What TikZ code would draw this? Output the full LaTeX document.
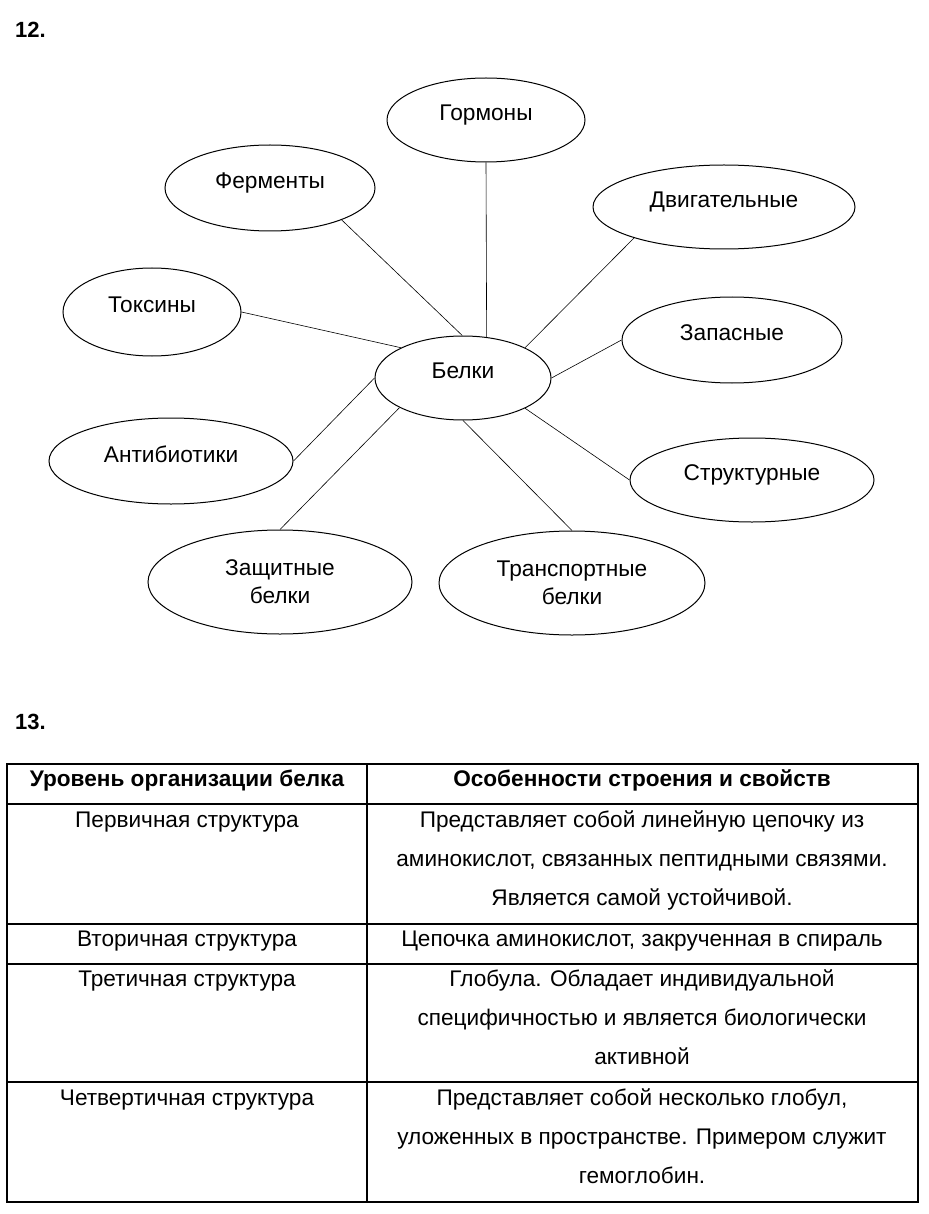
\documentclass[tikz,border=0pt]{standalone}
\usepackage{fontspec}
\setmainfont{Liberation Sans}
\usetikzlibrary{shapes.geometric}
\tikzset{
kind/.style={draw,ellipse,line width=1pt,inner sep=0pt,text depth=14pt,font=\fontsize{22.7}{28}\selectfont},
kindtwo/.style={draw,ellipse,line width=1pt,inner sep=0pt,align=center,font=\fontsize{22.7}{28}\selectfont},
link/.style={line width=.6pt},
cell/.style={anchor=base,inner sep=0pt,align=center,font=\fontsize{22.6}{39}\selectfont},
headcell/.style={cell,font=\bfseries\fontsize{22.6}{39}\selectfont},
tabline/.style={line width=1.2pt},
num/.style={anchor=west,inner sep=0pt,font=\bfseries\fontsize{22}{26}\selectfont}
}

\begin{document}
\begin{tikzpicture}[x=1pt,y=-1pt]
\useasboundingbox (0,0) rectangle (928,1214);
% 12
\node[num](n12) at (15,30){12.};
\node[kind,minimum width=176pt,minimum height=84pt](bel) at (463,378){Белки};
\node[kind,minimum width=198pt,minimum height=84pt](gorm) at (486,120){Гормоны};
\node[kind,minimum width=210pt,minimum height=86pt](ferm) at (270,188){Ферменты};
\node[kind,minimum width=262pt,minimum height=84pt](dvig) at (724,207){Двигательные};
\node[kind,minimum width=178pt,minimum height=88pt](tox) at (152,312){Токсины};
\node[kind,minimum width=220pt,minimum height=86pt](zap) at (732,340){Запасные};
\node[kind,minimum width=244pt,minimum height=86pt](anti) at (171,461){Антибиотики};
\node[kind,minimum width=244pt,minimum height=84pt](str) at (752,480){Структурные};
\node[kindtwo,minimum width=264pt,minimum height=104pt](zash) at (280,582){Защитные\\белки};
\node[kindtwo,minimum width=266pt,minimum height=104pt](trans) at (572,583){Транспортные\\белки};
\draw[link](bel.60)--(gorm.south);\draw[link](bel.91)--(ferm.336);\draw[link](bel.26)--(dvig.199);
\draw[link](bel.154)--(tox.east);\draw[link](bel.east)--(zap.west);\draw[link](bel.west)--(anti.east);
\draw[link](bel.205)--(zash.north);\draw[link](bel.south)--(trans.north);\draw[link](bel.334)--(str.west);
% 13 (multi-line cells sit on the baseline of their last line)
\node[num](n13) at (15,722){13.};
\draw[tabline](7,764) rectangle (918,1202);
\draw[tabline](367,764)--(367,1202);
\foreach \y in {804,924,964,1082}{\draw[tabline](7,\y)--(918,\y);}
\node[headcell](h1) at (187,786){Уровень организации белка};
\node[headcell](h2) at (642,786){Особенности строения и свойств};
\node[cell](l1) at (187,827){Первичная структура};
\node[cell](r1) at (642,905){Представляет собой линейную цепочку из\\аминокислот, связанных пептидными связями.\\Является самой устойчивой.};
\node[cell](l2) at (187,946){Вторичная структура};
\node[cell](r2) at (642,946){Цепочка аминокислот, закрученная в спираль};
\node[cell](l3) at (187,986){Третичная структура};
\node[cell](r3) at (642,1064){Глобула. Обладает индивидуальной\\специфичностью и является биологически\\активной};
\node[cell](l4) at (187,1105){Четвертичная структура};
\node[cell](r4) at (642,1183){Представляет собой несколько глобул,\\уложенных в пространстве. Примером служит\\гемоглобин.};
\end{tikzpicture}
\end{document}
